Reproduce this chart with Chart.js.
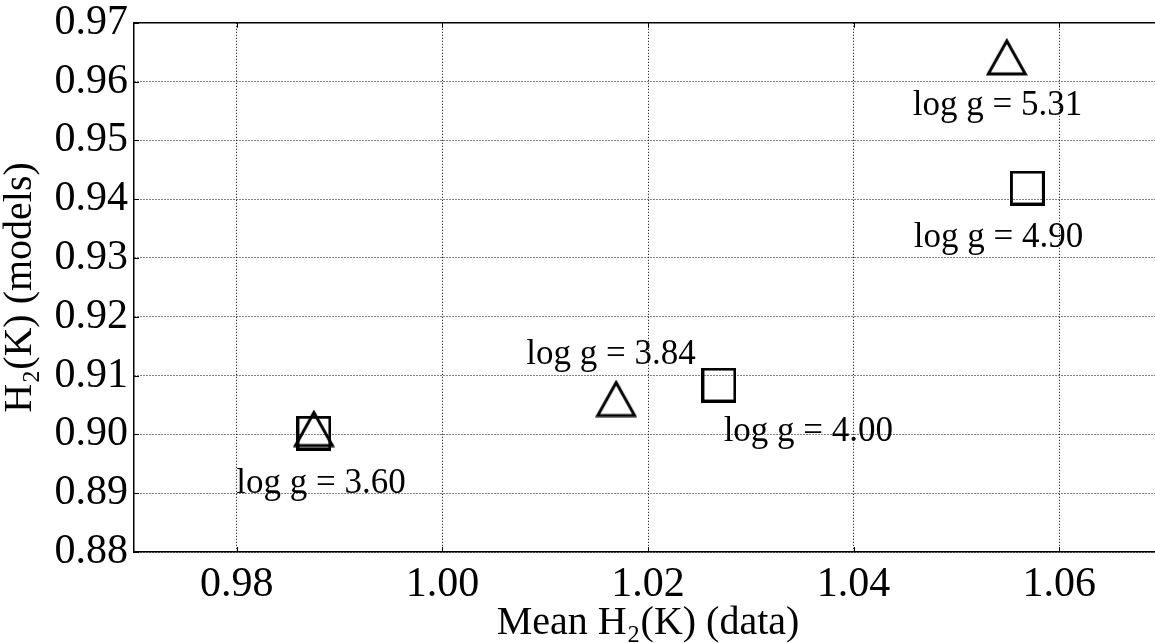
<!DOCTYPE html>
<html>
<head>
<meta charset="utf-8">
<script src="https://cdn.jsdelivr.net/npm/chart.js@4"></script>
<style>
  html, body { margin: 0; padding: 0; background: #fff; overflow: hidden; }
  #wrap { width: 1183px; height: 643px; }
</style>
</head>
<body>
<div id="wrap"><canvas id="grafico" width="1183" height="643"></canvas></div>
<script>
// dados
const triX = [0.9875, 1.0169, 1.0549];
const triY = [0.9010, 0.9061, 0.9642];
const sqX = [0.9875, 1.0269, 1.0569];
const sqY = [0.9002, 0.9084, 0.9419];

const labelTexts = ['log g = 3.60', 'log g = 3.84', 'log g = 4.00', 'log g = 5.31', 'log g = 4.90'];
const labelX = [0.9882, 1.0164, 1.0356, 1.0540, 1.0541];
const labelY = [0.8900, 0.9120, 0.8989, 0.9543, 0.9319];

const xTicks = [0.98, 1.00, 1.02, 1.04, 1.06];
const yTicks = [0.88, 0.89, 0.90, 0.91, 0.92, 0.93, 0.94, 0.95, 0.96, 0.97];

const FONTE = "'Liberation Serif', 'Times New Roman', serif";

// marcadores no estilo matplotlib (centrados na caixa)
function marcador(tipo) {
    const c = document.createElement('canvas');
    const g = c.getContext('2d');
    if (tipo === 'tri') {
        c.width = 42; c.height = 38;
        g.lineWidth = 3; g.strokeStyle = '#000'; g.lineJoin = 'miter';
        g.beginPath();
        g.moveTo(21, 3); g.lineTo(2.5, 36); g.lineTo(39.5, 36); g.closePath();
        g.stroke();
    } else {
        c.width = 35; c.height = 35;
        g.lineWidth = 3; g.strokeStyle = '#000';
        g.strokeRect(1.5, 1.5, 32, 32);
    }
    return c;
}

const pontosTri = triX.map((x, i) => ({ x, y: triY[i] }));
const pontosSq = sqX.map((x, i) => ({ x, y: sqY[i] }));

// rótulos, moldura superior e ticks internos
const extras = {
    id: 'extras',
    afterDatasetsDraw(chart) {
        const { ctx, chartArea, scales } = chart;
        ctx.save();
        ctx.strokeStyle = '#000';
        ctx.lineWidth = 1.5;
        ctx.beginPath();
        ctx.moveTo(chartArea.left, chartArea.top);
        ctx.lineTo(chartArea.right, chartArea.top);
        ctx.stroke();

        ctx.lineWidth = 1;
        ctx.beginPath();
        yTicks.forEach(v => {
            const py = Math.round(scales.y.getPixelForValue(v)) + 0.5;
            ctx.moveTo(chartArea.left, py); ctx.lineTo(chartArea.left + 5, py);
        });
        xTicks.forEach(v => {
            const px = Math.round(scales.x.getPixelForValue(v)) + 0.5;
            ctx.moveTo(px, chartArea.bottom); ctx.lineTo(px, chartArea.bottom - 5);
            ctx.moveTo(px, chartArea.top); ctx.lineTo(px, chartArea.top + 5);
        });
        ctx.stroke();

        ctx.fillStyle = '#000';
        ctx.font = `35px ${FONTE}`;
        ctx.textAlign = 'center';
        ctx.textBaseline = 'alphabetic';
        labelTexts.forEach((t, i) => {
            ctx.fillText(t, scales.x.getPixelForValue(labelX[i]), scales.y.getPixelForValue(labelY[i]));
        });
        ctx.restore();
    }
};

new Chart(document.getElementById('grafico'), {
    type: 'scatter',
    data: {
        datasets: [
            { label: 'quadrados', data: pontosSq, pointStyle: marcador('sq'), pointRadius: 17 },
            { label: 'triangulos', data: pontosTri, pointStyle: marcador('tri'), pointRadius: 20 }
        ]
    },
    options: {
        responsive: false,
        animation: false,
        devicePixelRatio: 1,
        layout: { padding: { top: 16, right: 12, left: 0, bottom: 0 } },
        plugins: { legend: { display: false }, tooltip: { enabled: false } },
        scales: {
            x: {
                type: 'linear', min: 0.97, max: 1.07,
                afterBuildTicks: s => { s.ticks = xTicks.map(v => ({ value: v })); },
                afterFit: s => { s.height = 91; },
                ticks: { color: '#000', font: { family: FONTE, size: 42, lineHeight: 0.8 }, padding: 16, maxRotation: 0, callback: v => v.toFixed(2) },
                grid: { color: '#000', lineWidth: 1, drawTicks: false },
                border: { color: '#000', width: 1.5, dash: [1, 2] },
                title: { display: true, text: 'Mean H₂(K) (data)', color: '#000', font: { family: FONTE, size: 40, lineHeight: 1 }, padding: { top: 0, bottom: 0 } }
            },
            y: {
                type: 'linear', min: 0.88, max: 0.97,
                afterBuildTicks: s => { s.ticks = yTicks.map(v => ({ value: v })); },
                afterFit: s => { s.width = 134; },
                ticks: { color: '#000', font: { family: FONTE, size: 42, lineHeight: 0.8 }, padding: 6, callback: v => v.toFixed(2) },
                grid: { color: '#000', lineWidth: 1, drawTicks: false },
                border: { color: '#000', width: 1.5, dash: [1, 2] },
                title: { display: true, text: 'H₂(K) (models)', color: '#000', font: { family: FONTE, size: 40, lineHeight: 1 }, padding: { top: 0, bottom: 0 } }
            }
        }
    },
    plugins: [extras]
});
</script>
</body>
</html>
